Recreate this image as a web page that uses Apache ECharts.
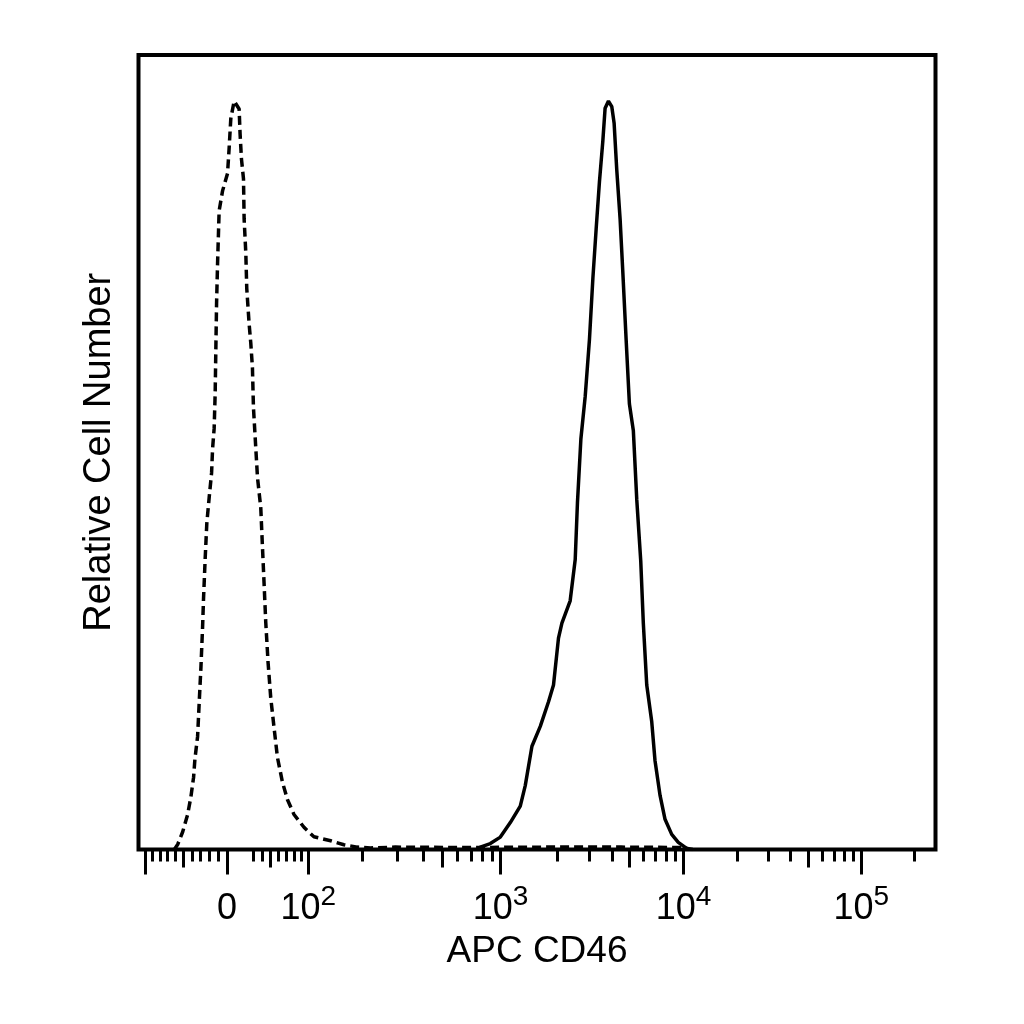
<!DOCTYPE html>
<html>
<head>
<meta charset="utf-8">
<script src="https://cdn.jsdelivr.net/npm/echarts@6/dist/echarts.min.js"></script>
<style>
  html, body { margin: 0; padding: 0; background: #fff; }
  #chart { width: 1024px; height: 1024px; }
</style>
</head>
<body>
<div id="chart"></div>
<script>
(function () {
  'use strict';

  // Logicle (biexponential) display: T = top of scale, M = decades, W = linear width.
  const T = 262144, M = 4.5, W = 0.5;
  const CHANNELS = 1024;   // x axis runs over display channels 0..1024

  // Histograms, x in display channels, y as % of the plot height.
  const SOLID_CH = [435, 439.2, 452.0, 464.9, 477.7, 490.5, 496.9, 505.5, 516.2, 526.8, 533.2, 539.6, 544.0,
    554.6, 561.1, 564.0, 568.4, 573.9, 579.4, 583.8, 588.0, 592.2, 596.6, 599.5, 603.8, 608.1, 611.1, 614.5,
    618.8, 622.2, 626.5, 630.7, 635.8, 640.2, 645.3, 648.6, 653.0, 659.4, 663.6, 670.1, 676.5, 685.1, 693.5,
    702.1, 706];
  const SOLID_Y = [0, 0.31, 0.75, 1.56, 3.39, 5.46, 8.04, 13.0, 15.5, 18.6, 20.7, 26.6, 28.5,
    31.3, 36.5, 43.7, 51.7, 57.0, 64.2, 71.9, 78.1, 84.0, 89.2, 93.3, 94.2, 93.5, 91.4, 85.5,
    79.3, 72.8, 64.2, 56.1, 52.7, 44.0, 36.3, 28.5, 20.7, 16.1, 11.2, 6.8, 3.8, 1.9, 0.9,
    0.3, 0];

  const DASHED_CH = [46, 50.3, 56.7, 63.1, 67.3, 70.8, 72.5, 75.9, 78.0, 80.2, 82.3, 83.6, 85.7, 87.8, 90.8,
    93.9, 95.2, 97.2, 98.5, 99.4, 100.3, 101.6, 103.6, 108.0, 114.4, 116.4, 118.6, 122.9, 129.3, 130.5, 132.3,
    134.9, 135.7, 137.9, 139.1, 142.1, 144.3, 146.4, 147.7, 150.7, 152.9, 157.1, 159.3, 161.3, 163.5, 166.5,
    169.9, 174.1, 178.5, 184.9, 191.3, 199.8, 212.6, 225.4, 246.9, 263.9, 281.1, 298.2, 330, 420, 520, 620,
    700, 712];
  const DASHED_Y = [0, 0.63, 2.2, 4.4, 6.6, 9.1, 11.4, 14.2, 18.5, 22.9, 27.9, 31.7, 36.7, 41.1, 44.3,
    47.4, 50.5, 53.0, 57.4, 63.1, 68.7, 73.8, 80.4, 82.9, 85.1, 88.2, 92.0, 94.2, 93.2, 90.1, 86.9,
    84.4, 79.4, 75.0, 70.6, 66.2, 63.7, 60.6, 55.6, 50.5, 46.8, 43.0, 38.0, 33.6, 28.6, 23.5,
    19.1, 15.4, 11.6, 8.5, 6.3, 4.4, 2.8, 1.6, 1.1, 0.6, 0.3, 0.2, 0.3, 0.25, 0.3, 0.3,
    0.25, 0];

  // Tick marks, in fluorescence units.
  const MAJOR_TICKS = [-100, 0, 100, 1000, 10000, 100000];
  const MEDIUM_TICKS = [-50, 50, 500, 5000, 50000];
  const MINOR_TICKS = [-90, -80, -70, -60, -40, -30, -20, -10, 30, 40, 60, 70, 80, 90,
    200, 300, 400, 600, 700, 800, 900,
    2000, 3000, 4000, 6000, 7000, 8000, 9000,
    20000, 30000, 40000, 60000, 70000, 80000, 90000, 200000];
  const LABEL_VALUES = [0, 100, 1000, 10000, 100000];
  const LABEL_BASE = ['0', '10', '10', '10', '10'];
  const LABEL_EXP = ['', '2', '3', '4', '5'];

  const FONT = 'Liberation Sans, Arial, sans-serif';

  function solveP(w) {
    let lo = 1.000001, hi = 20;
    for (let i = 0; i < 80; i++) {
      const mid = (lo + hi) / 2;
      const f = 2 * mid * Math.log10(mid) / (mid + 1);
      if (f < w) lo = mid; else hi = mid;
    }
    return (lo + hi) / 2;
  }
  const P = solveP(W);
  const COEF = T * Math.pow(10, -(M - W));

  // display (decades) -> data value
  function logicleValue(y) {
    if (y < W) return -logicleValue(2 * W - y);
    const z = y - W;
    return COEF * (Math.pow(10, z) - P * P * Math.pow(10, -z / P) + P * P - 1);
  }
  // data value -> display channel
  function toChannel(v) {
    let lo = -1, hi = 6;
    for (let i = 0; i < 90; i++) {
      const mid = (lo + hi) / 2;
      if (logicleValue(mid) < v) lo = mid; else hi = mid;
    }
    return (lo + hi) / 2 * CHANNELS / M;
  }

  const zip = (xs, ys) => xs.map((x, i) => [x, ys[i]]);
  const labelCh = LABEL_VALUES.map(toChannel);

  function tickAxis(values, len) {
    return {
      type: 'value', min: 0, max: CHANNELS, position: 'bottom', gridIndex: 0,
      axisLine: { show: false }, splitLine: { show: false },
      axisTick: { show: true, customValues: values.map(toChannel), length: len,
        lineStyle: { color: '#000', width: 3 } },
      axisLabel: { show: false },
    };
  }

  const labelAxis = Object.assign(tickAxis(MAJOR_TICKS, 25), {
    name: 'APC CD46', nameLocation: 'middle', nameGap: 84,
    nameTextStyle: { fontSize: 37, fontFamily: FONT, color: '#000' },
    axisLabel: {
      show: true, customValues: labelCh, margin: 34,
      formatter: v => {
        let best = 0;
        labelCh.forEach((c, i) => { if (Math.abs(c - v) < Math.abs(labelCh[best] - v)) best = i; });
        return LABEL_EXP[best] ? `{b|${LABEL_BASE[best]}}{s|${LABEL_EXP[best]}}` : `{b|${LABEL_BASE[best]}}`;
      },
      rich: {
        b: { fontSize: 36, fontFamily: FONT, color: '#000', lineHeight: 52 },
        s: { fontSize: 28, fontFamily: FONT, color: '#000', lineHeight: 24, verticalAlign: 'top' },
      },
    },
  });

  const chart = echarts.init(document.getElementById('chart'), null, { renderer: 'canvas' });
  chart.setOption({
    backgroundColor: '#fff',
    animation: false,
    grid: { left: 138.5, right: 88.5, top: 55, bottom: 174.5, show: true,
      borderColor: '#000', borderWidth: 4, outerBoundsMode: 'none' },
    xAxis: [labelAxis, tickAxis(MEDIUM_TICKS, 18), tickAxis(MINOR_TICKS, 12)],
    yAxis: {
      type: 'value', min: 0, max: 100,
      axisLine: { show: false }, axisTick: { show: false }, axisLabel: { show: false }, splitLine: { show: false },
      name: 'Relative Cell Number', nameLocation: 'middle', nameGap: 20,
      nameTextStyle: { fontSize: 38, fontFamily: FONT, color: '#000' },
    },
    series: [
      { type: 'line', xAxisIndex: 0, data: zip(DASHED_CH, DASHED_Y), symbol: 'none', silent: true,
        lineStyle: { color: '#000', width: 3.5, type: [9, 5] } },
      { type: 'line', xAxisIndex: 0, data: zip(SOLID_CH, SOLID_Y), symbol: 'none', silent: true,
        lineStyle: { color: '#000', width: 3.5 } },
    ],
  });
})();
</script>
</body>
</html>
